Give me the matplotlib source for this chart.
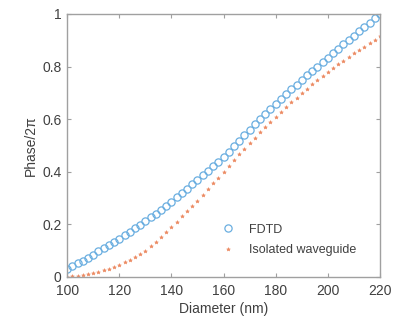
import numpy as np
from matplotlib import pyplot as plt

# Diameter sweep (nm)
diameter = np.arange(100, 221, 2)

# FDTD phase / 2pi
fdtd = [0.030, 0.040, 0.051, 0.062, 0.073, 0.085, 0.097, 0.109, 0.121, 0.133,
        0.146, 0.159, 0.172, 0.185, 0.198, 0.212, 0.226, 0.240, 0.255, 0.270,
        0.285, 0.302, 0.319, 0.336, 0.353, 0.370, 0.387, 0.404, 0.421, 0.438,
        0.456, 0.476, 0.497, 0.518, 0.539, 0.560, 0.580, 0.600, 0.620, 0.640,
        0.659, 0.677, 0.695, 0.713, 0.731, 0.749, 0.766, 0.783, 0.800, 0.817,
        0.834, 0.851, 0.868, 0.885, 0.902, 0.918, 0.934, 0.950, 0.967, 0.983,
        1.000]

# Isolated waveguide phase / 2pi
isolated = [0.000, 0.002, 0.004, 0.007, 0.011, 0.015, 0.020, 0.025, 0.031, 0.038,
            0.045, 0.055, 0.065, 0.076, 0.088, 0.100, 0.116, 0.133, 0.151, 0.170,
            0.190, 0.210, 0.230, 0.250, 0.270, 0.290, 0.312, 0.334, 0.356, 0.378,
            0.400, 0.422, 0.444, 0.466, 0.488, 0.510, 0.530, 0.550, 0.570, 0.590,
            0.610, 0.628, 0.646, 0.664, 0.682, 0.700, 0.716, 0.732, 0.748, 0.764,
            0.780, 0.794, 0.808, 0.822, 0.836, 0.850, 0.863, 0.876, 0.889, 0.902,
            0.915]

xticks = [100, 120, 140, 160, 180, 200, 220]
yticks = [0, 0.2, 0.4, 0.6, 0.8, 1]
yticklabels = ['0', '0.2', '0.4', '0.6', '0.8', '1']

plt.rcParams['font.family'] = ['Liberation Sans', 'DejaVu Sans']

fig = plt.figure(figsize=(3.95, 3.25), dpi=100)
ax = fig.add_axes([0.17, 0.148, 0.792, 0.809])

blue = '#6aaee0'
orange = '#ec8a62'
ax.plot(diameter, fdtd, 'o', color=blue, markerfacecolor='none',
        markersize=5.2, markeredgewidth=0.9, label='FDTD')
ax.plot(diameter, isolated, '*', color=orange, markersize=2.8,
        markeredgewidth=0.4, label='Isolated waveguide')

ax.set_xlim(100, 220)
ax.set_ylim(0, 1)
ax.set_xticks(xticks)
ax.set_yticks(yticks)
ax.set_yticklabels(yticklabels)

gray = '#a0a0a0'
for s in ax.spines.values():
    s.set_color(gray)
    s.set_linewidth(1.0)
ax.tick_params(direction='in', top=True, right=True, length=3, width=0.8,
               color=gray, labelsize=10, labelcolor='#404040')
ax.tick_params(axis='x', pad=5)
ax.tick_params(axis='y', pad=4)

ax.set_xlabel('Diameter (nm)', fontsize=10, color='#404040', labelpad=3)
ax.set_ylabel('Phase/2π', fontsize=10, color='#404040', labelpad=3)

ax.legend(loc='lower right', frameon=False, fontsize=9, handletextpad=0.7,
          labelspacing=0.7, bbox_to_anchor=(0.96, 0.035),
          labelcolor='#404040')

fig.savefig('out.png', dpi=100)
